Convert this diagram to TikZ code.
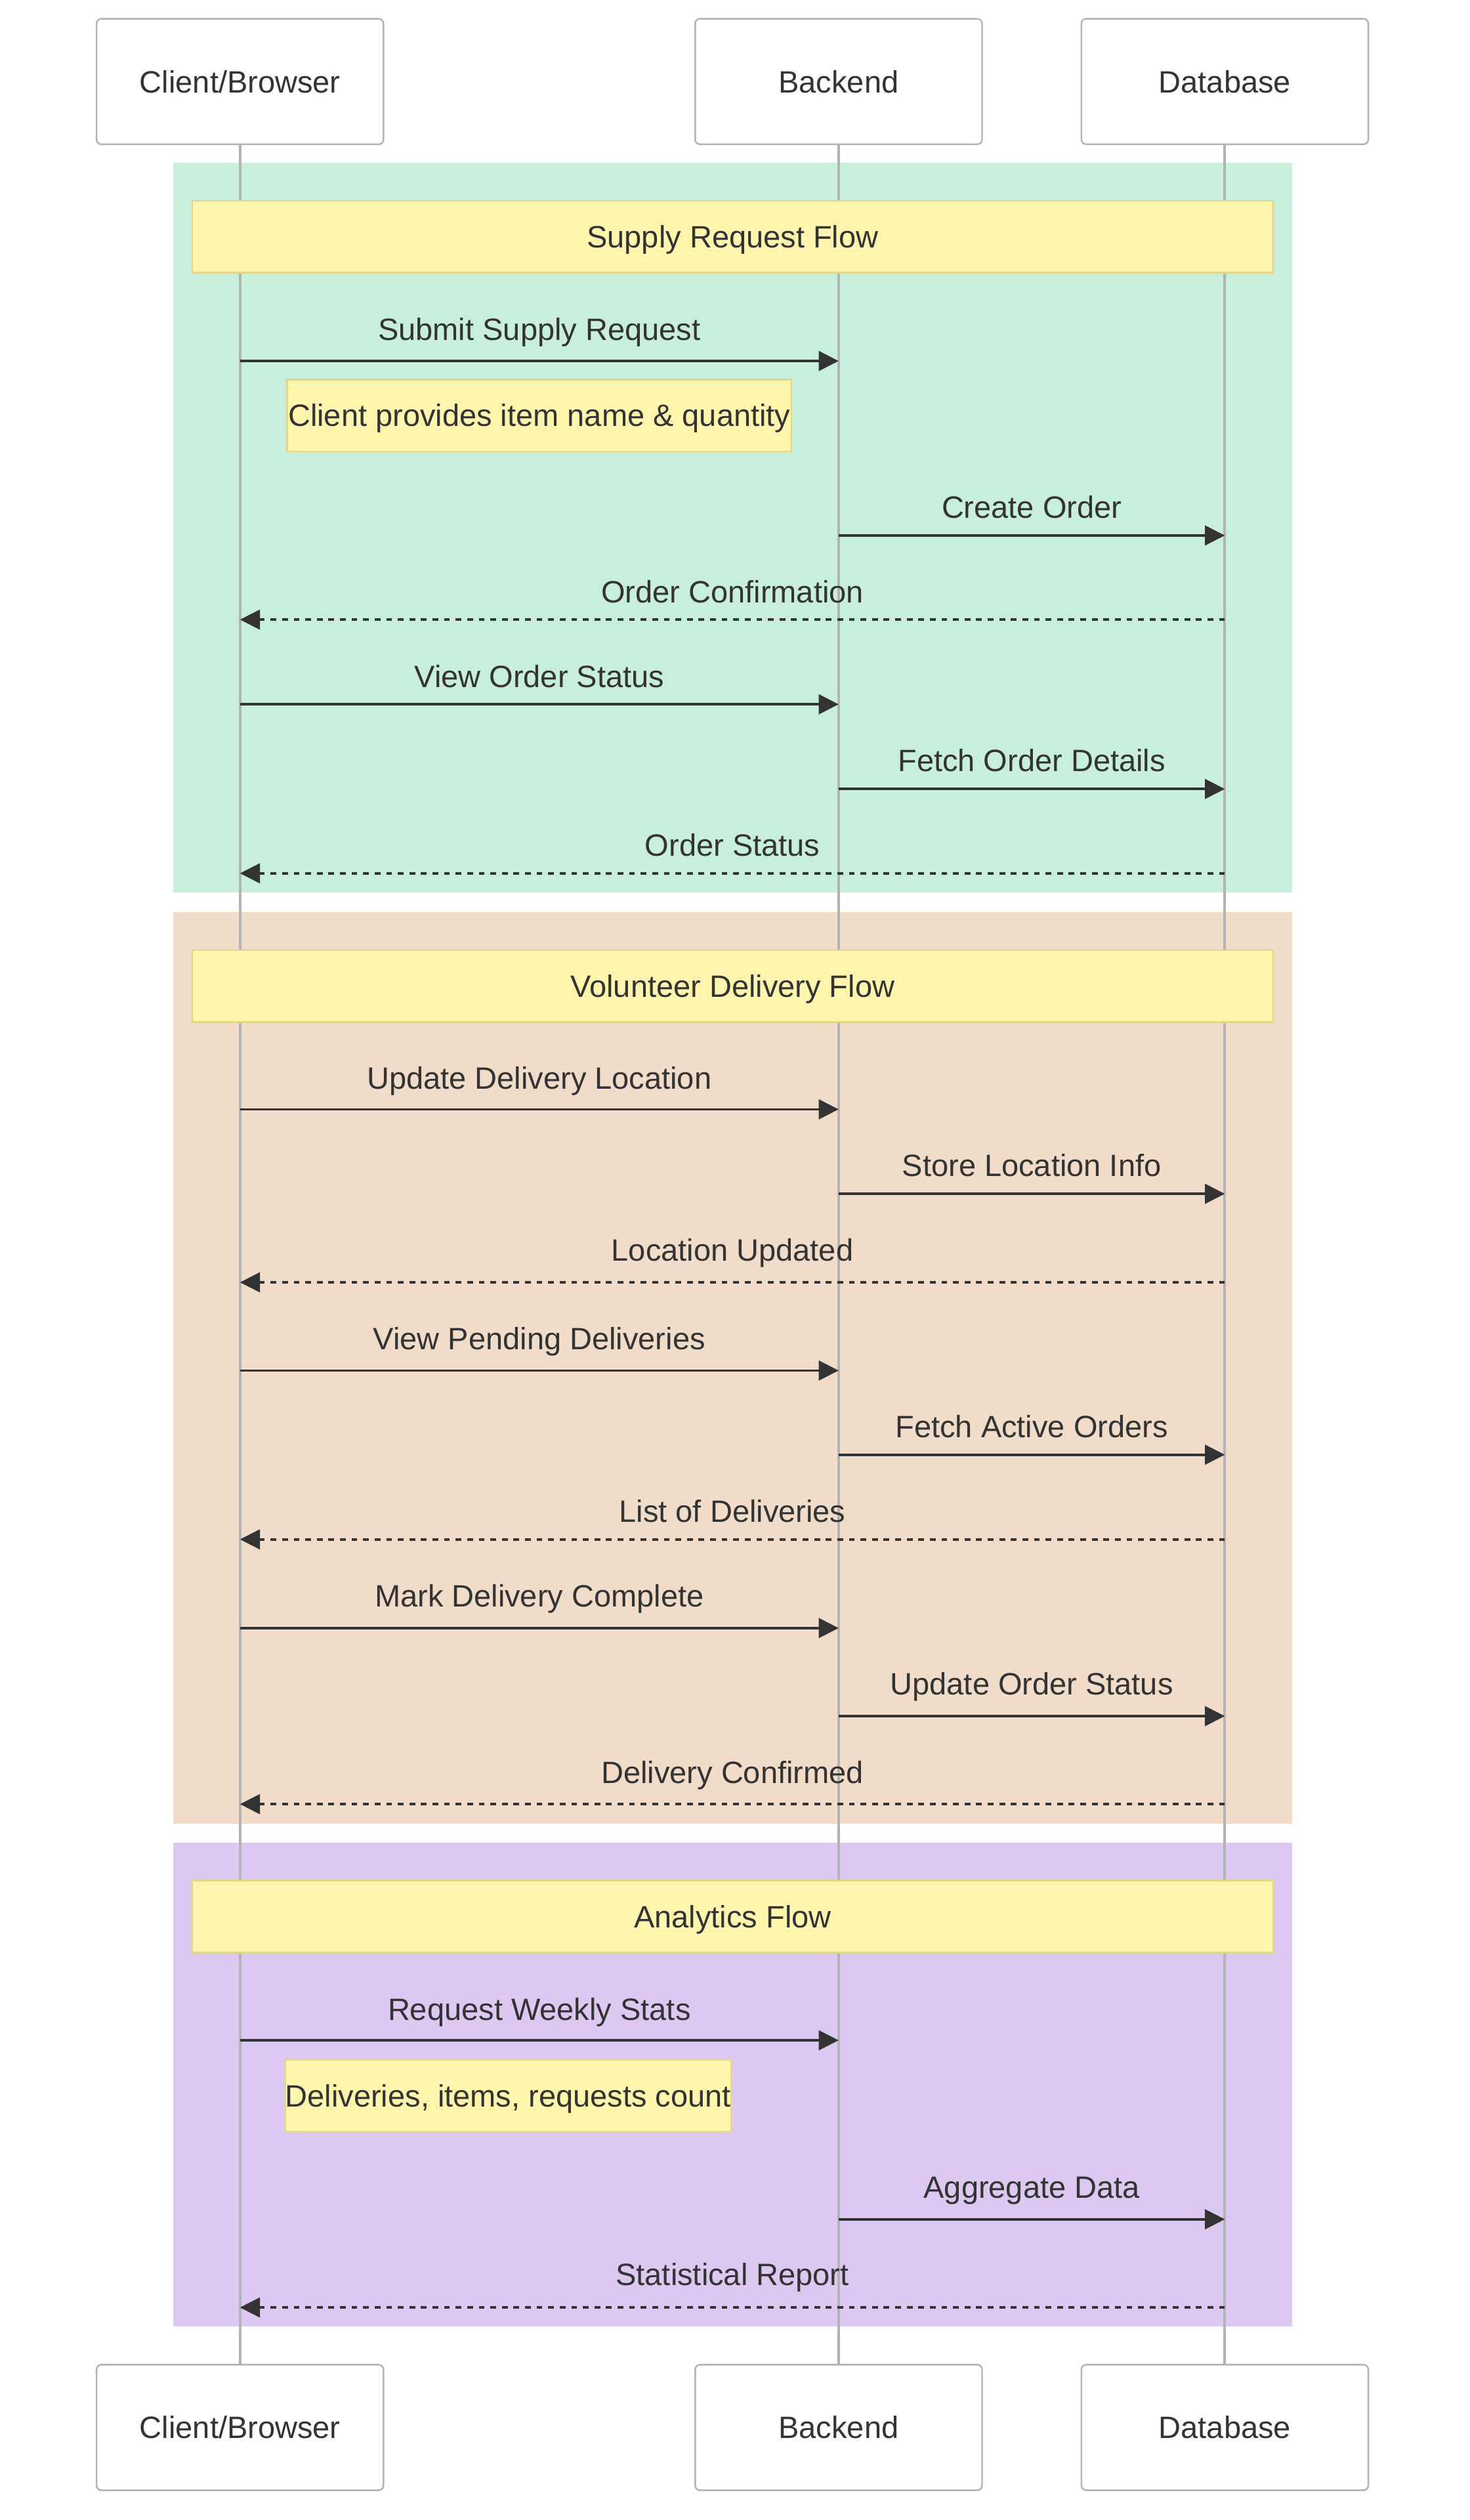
\documentclass[tikz,border=0pt]{standalone}
\usepackage{fontspec}
\setmainfont{Liberation Sans}
\usetikzlibrary{arrows.meta}

\definecolor{inkgray}{RGB}{51,51,51}
\definecolor{linegray}{RGB}{179,179,179}
\definecolor{supplygreen}{RGB}{200,239,220}
\definecolor{deliverytan}{RGB}{240,220,200}
\definecolor{statspurple}{RGB}{220,200,240}
\definecolor{notefill}{RGB}{255,245,173}
\definecolor{noteborder}{RGB}{225,215,135}

\newcommand{\diagfont}{\fontsize{14.4pt}{17pt}\selectfont}

\tikzset{every picture/.style={line width=0.75pt}}
\tikzset{
  actorbox/.style={draw=linegray, fill=white, rounded corners=2.25pt, minimum width=133.95pt, minimum height=58.6pt, inner sep=0pt, text height=10.3pt, text depth=0pt, text=inkgray, font=\diagfont},
  notebox/.style={draw=noteborder, fill=notefill, minimum height=33.6pt, inner sep=0pt, text height=10.3pt, text depth=0pt, text=inkgray, font=\diagfont},
  lifeline/.style={draw=linegray, line width=1.2pt},
  msg/.style={draw=inkgray, line width=1.1pt, -{Triangle[length=9.3pt,width=9.2pt]}},
  reply/.style={msg, dash pattern=on 2.7pt off 2.7pt},
  msglabel/.style={anchor=base, inner sep=0pt, text=inkgray, font=\diagfont}
}

\begin{document}
\begin{tikzpicture}[x=0.75pt,y=0.75pt,yscale=-1,xscale=1]
\useasboundingbox (0,0) rectangle (915,1568.6);

%Shape: Rectangle [Supply Request Flow]
\fill [supplygreen] (108,101.4) rectangle (804.2,555.6);
%Shape: Rectangle [Volunteer Delivery Flow]
\fill [deliverytan] (108,567.6) rectangle (804.2,1135.2);
%Shape: Rectangle [Analytics Flow]
\fill [statspurple] (108,1147.2) rectangle (804.2,1448.1);

% Actor Nodes
\node [actorbox] (cTop) at (149.4,50.75) {Client/Browser};
\node [actorbox] (bTop) at (522,50.75) {Backend};
\node [actorbox] (dTop) at (762.4,50.75) {Database};
\node [actorbox] (cBot) at (149.4,1511) {Client/Browser};
\node [actorbox] (bBot) at (522,1511) {Backend};
\node [actorbox] (dBot) at (762.4,1511) {Database};

%Straight Lines [lifelines]
\draw [lifeline] (cTop) -- (cBot);
\draw [lifeline] (bTop) -- (bBot);
\draw [lifeline] (dTop) -- (dBot);

% Note Nodes
\node [notebox, minimum width=504.7pt] (supplyNote) at (456.05,147.4) {Supply Request Flow};
\node [notebox, minimum width=235.5pt] (clientNote) at (335.7,258.65) {Client provides item name \& quantity};
\node [notebox, minimum width=504.7pt] (deliveryNote) at (456.05,613.9) {Volunteer Delivery Flow};
\node [notebox, minimum width=504.7pt] (statsNote) at (456.05,1193) {Analytics Flow};
\node [notebox, minimum width=205.8pt] (countNote) at (316.3,1304.4) {Deliveries, items, requests count};

%Straight Lines [Submit Supply Request]
\draw [msg] (cTop |- 0,224.7) -- (bTop |- 0,224.7);
\path (cTop |- 0,211.7) -- node [msglabel] {Submit Supply Request} (bTop |- 0,211.7);
%Straight Lines [Create Order]
\draw [msg] (bTop |- 0,333.3) -- (dTop |- 0,333.3);
\path (bTop |- 0,322.4) -- node [msglabel] {Create Order} (dTop |- 0,322.4);
%Straight Lines [Order Confirmation]
\draw [reply] (dTop |- 0,385.7) -- (cTop |- 0,385.7);
\path (dTop |- 0,375.4) -- node [msglabel] {Order Confirmation} (cTop |- 0,375.4);
%Straight Lines [View Order Status]
\draw [msg] (cTop |- 0,438.4) -- (bTop |- 0,438.4);
\path (cTop |- 0,427.8) -- node [msglabel] {View Order Status} (bTop |- 0,427.8);
%Straight Lines [Fetch Order Details]
\draw [msg] (bTop |- 0,491.1) -- (dTop |- 0,491.1);
\path (bTop |- 0,480) -- node [msglabel] {Fetch Order Details} (dTop |- 0,480);
%Straight Lines [Order Status]
\draw [reply] (dTop |- 0,543.6) -- (cTop |- 0,543.6);
\path (dTop |- 0,532.7) -- node [msglabel] {Order Status} (cTop |- 0,532.7);

%Straight Lines [Update Delivery Location]
\draw [msg] (cTop |- 0,690.5) -- (bTop |- 0,690.5);
\path (cTop |- 0,677.8) -- node [msglabel] {Update Delivery Location} (bTop |- 0,677.8);
%Straight Lines [Store Location Info]
\draw [msg] (bTop |- 0,743.1) -- (dTop |- 0,743.1);
\path (bTop |- 0,732.3) -- node [msglabel] {Store Location Info} (dTop |- 0,732.3);
%Straight Lines [Location Updated]
\draw [reply] (dTop |- 0,798.2) -- (cTop |- 0,798.2);
\path (dTop |- 0,785) -- node [msglabel] {Location Updated} (cTop |- 0,785);
%Straight Lines [View Pending Deliveries]
\draw [msg] (cTop |- 0,853.1) -- (bTop |- 0,853.1);
\path (cTop |- 0,840.1) -- node [msglabel] {View Pending Deliveries} (bTop |- 0,840.1);
%Straight Lines [Fetch Active Orders]
\draw [msg] (bTop |- 0,905.5) -- (dTop |- 0,905.5);
\path (bTop |- 0,894.6) -- node [msglabel] {Fetch Active Orders} (dTop |- 0,894.6);
%Straight Lines [List of Deliveries]
\draw [reply] (dTop |- 0,958.2) -- (cTop |- 0,958.2);
\path (dTop |- 0,947.4) -- node [msglabel] {List of Deliveries} (cTop |- 0,947.4);
%Straight Lines [Mark Delivery Complete]
\draw [msg] (cTop |- 0,1013.4) -- (bTop |- 0,1013.4);
\path (cTop |- 0,1000.1) -- node [msglabel] {Mark Delivery Complete} (bTop |- 0,1000.1);
%Straight Lines [Update Order Status]
\draw [msg] (bTop |- 0,1068.2) -- (dTop |- 0,1068.2);
\path (bTop |- 0,1055) -- node [msglabel] {Update Order Status} (dTop |- 0,1055);
%Straight Lines [Delivery Confirmed]
\draw [reply] (dTop |- 0,1123) -- (cTop |- 0,1123);
\path (dTop |- 0,1110.2) -- node [msglabel] {Delivery Confirmed} (cTop |- 0,1110.2);

%Straight Lines [Request Weekly Stats]
\draw [msg] (cTop |- 0,1270) -- (bTop |- 0,1270);
\path (cTop |- 0,1257.5) -- node [msglabel] {Request Weekly Stats} (bTop |- 0,1257.5);
%Straight Lines [Aggregate Data]
\draw [msg] (bTop |- 0,1381.4) -- (dTop |- 0,1381.4);
\path (bTop |- 0,1368.2) -- node [msglabel] {Aggregate Data} (dTop |- 0,1368.2);
%Straight Lines [Statistical Report]
\draw [reply] (dTop |- 0,1436.3) -- (cTop |- 0,1436.3);
\path (dTop |- 0,1422.7) -- node [msglabel] {Statistical Report} (cTop |- 0,1422.7);

\end{tikzpicture}
\end{document}
